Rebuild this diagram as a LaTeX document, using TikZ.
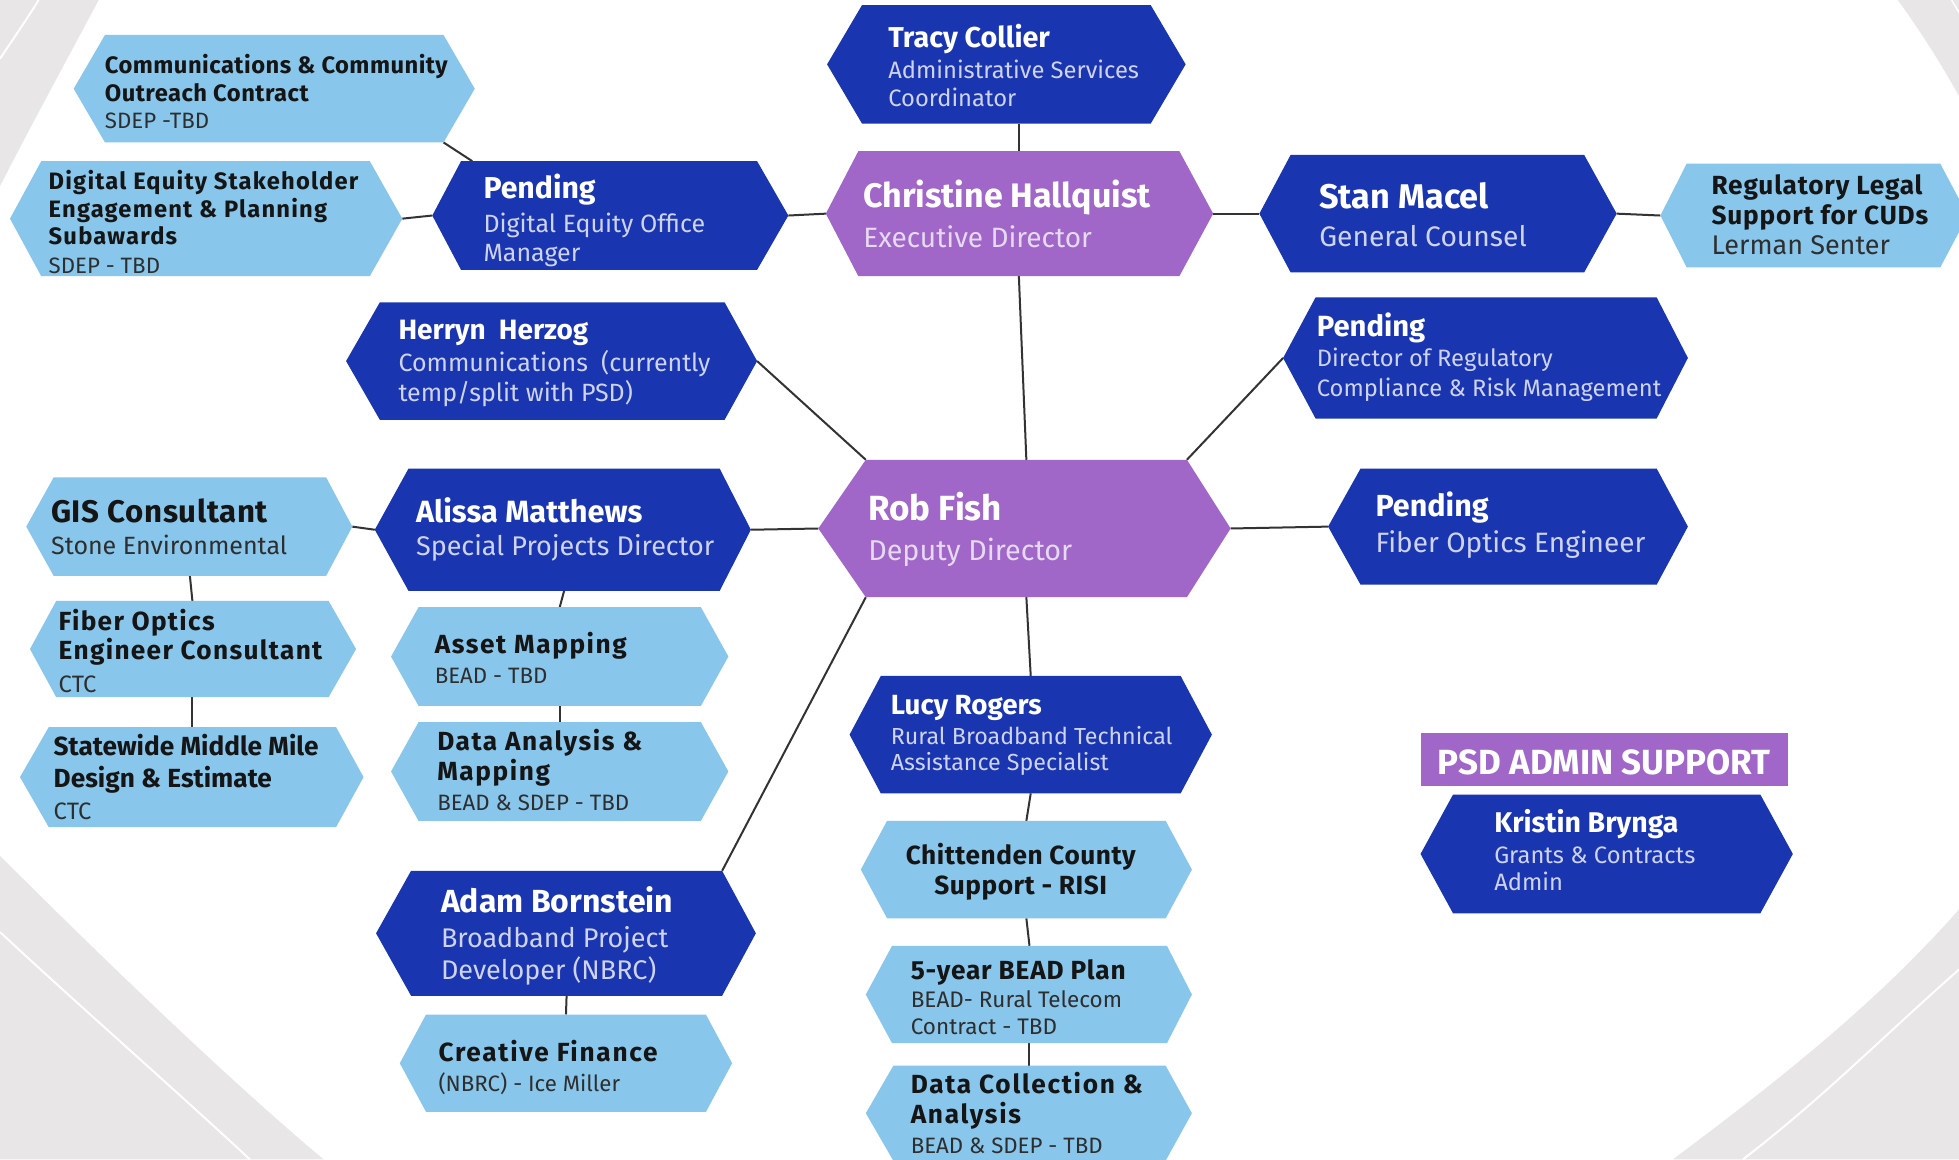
\documentclass[tikz,border=0pt]{standalone}
\usepackage{fontspec}
\setmainfont{Fira Sans}
\usetikzlibrary{calc}
\pgfdeclarelayer{bg}\pgfdeclarelayer{lines}\pgfdeclarelayer{boxes}
\pgfsetlayers{bg,lines,boxes,main}
\definecolor{dblue}{HTML}{1A35B0}
\definecolor{purp}{HTML}{A066C8}
\definecolor{lblue}{HTML}{88C6EC}
\definecolor{bggrey}{HTML}{E8E6E6}
\definecolor{subd}{HTML}{CDD3F0}
\definecolor{subp}{HTML}{E6D9F2}
\definecolor{titl}{HTML}{151515}
\definecolor{subl}{HTML}{2E2E2E}
\definecolor{conncol}{HTML}{333333}
\tikzset{
  boxframe/.style={rectangle, draw=none, inner sep=0, outer sep=0},
  tx/.style={anchor=base west, inner sep=0, outer sep=0},
  nm/.style={tx, font=\bfseries\fontsize{#1}{#1}\selectfont},
  sb/.style={tx, font=\fontsize{#1}{#1}\selectfont},
  ls/.style 2 args={tx, font=\bfseries\fontsize{#1}{#1}\selectfont\addfontfeature{LetterSpace=#2}},
  onD/.style={text=white}, subD/.style={text=subd}, subP/.style={text=subp},
  onL/.style={text=titl}, subL/.style={text=subl},
  conn/.style={draw=conncol, line width=0.8pt},
}
\newcommand\hexbox[8]{%
  \node[boxframe, minimum width={(#5-#4)*0.5pt}, minimum height={(#8-#7)*0.5pt}] (#1) at ({(#4+#5)/2},{(#7+#8)/2}) {};
  \coordinate (#1-l) at (#3,{(#7+#8)/2});
  \coordinate (#1-r) at (#6,{(#7+#8)/2});
  \begin{pgfonlayer}{boxes}
  \fill[#2] (#1-l) -- (#1.north west) -- (#1.north east) -- (#1-r) -- (#1.south east) -- (#1.south west) -- cycle;
  \end{pgfonlayer}}
\newcommand\txtline[5]{\node[#4] (#1) at (#2,#3) {#5};}
\begin{document}
\begin{tikzpicture}[x=0.5pt, y=-0.5pt]
\useasboundingbox (0,0) rectangle (1568,928);
\begin{pgfonlayer}{bg}
\fill[white] (0,0) rectangle (1568,928);
\fill[bggrey] (0,0) -- (79,0) .. controls (55,45) and (25,100) .. (0,149) -- cycle;
\draw[white, line width=0.8pt] (31,0) .. controls (21,16) and (10,32) .. (0,47);
\fill[bggrey] (0,685) .. controls (70,755) and (180,862) .. (259,928) -- (0,928) -- cycle;
\draw[white, line width=0.8pt] (0,746) .. controls (60,802) and (140,872) .. (200,928);
\fill[bggrey] (1519,0) .. controls (1535,22) and (1552,48) .. (1568,77) -- (1568,0) -- cycle;
\draw[white, line width=0.6pt] (1562,0) -- (1568,10);
\fill[bggrey] (1339,928) .. controls (1419,868) and (1498,807) .. (1568,728) -- (1568,928) -- cycle;
\draw[white, line width=0.8pt] (1395,928) .. controls (1460,878) and (1510,827) .. (1568,776);
\end{pgfonlayer}

% boxes
\hexbox{tracy}{dblue}{662}{690}{921}{949}{4}{99}
\hexbox{christine}{purp}{661}{687}{944}{971}{121}{221}
\hexbox{stan}{dblue}{1008}{1033}{1268}{1294}{124}{218}
\hexbox{reglegal}{lblue}{1329}{1350}{1553}{1575}{131}{214}
\hexbox{comms}{lblue}{59}{84}{355}{380}{28}{114}
\hexbox{desub}{lblue}{8}{33}{296}{322}{129}{221}
\hexbox{pdeom}{dblue}{346}{369}{606}{631}{129}{216}
\hexbox{herryn}{dblue}{277}{304}{580}{606}{242}{336}
\hexbox{drc}{dblue}{1027}{1053}{1326}{1351}{238}{335}
\hexbox{rob}{purp}{655}{693}{950}{985}{368}{478}
\hexbox{pfoe}{dblue}{1063}{1089}{1326}{1351}{375}{468}
\hexbox{alissa}{dblue}{300}{327}{576}{601}{375}{473}
\hexbox{gis}{lblue}{21}{43}{261}{282}{382}{461}
\hexbox{fiber}{lblue}{24}{45}{263}{285}{481}{558}
\hexbox{statewide}{lblue}{16}{39}{269}{291}{582}{662}
\hexbox{asset}{lblue}{313}{335}{561}{583}{486}{565}
\hexbox{danalysis}{lblue}{313}{335}{561}{583}{578}{657}
\hexbox{adam}{dblue}{301}{329}{578}{605}{697}{797}
\hexbox{creative}{lblue}{320}{341}{565}{586}{812}{890}
\hexbox{lucy}{dblue}{680}{705}{945}{970}{541}{635}
\hexbox{chitt}{lblue}{689}{710}{933}{954}{657}{735}
\hexbox{fivey}{lblue}{693}{714}{934}{954}{757}{835}
\hexbox{dcoll}{lblue}{693}{715}{933}{954}{853}{929}
\hexbox{kristin}{dblue}{1137}{1163}{1409}{1435}{636}{731}
\node[boxframe, fill=purp, minimum width={294*0.5pt}, minimum height={42*0.5pt}] (psd) at (1284,608) {};

% texts
\txtline{tracy-1}{711}{38}{nm=11.5,onD}{Tracy Collier}
\txtline{tracy-2}{711}{63}{sb=9.5,subD}{Administrative Services}
\txtline{tracy-3}{711}{85}{sb=9.5,subD}{Coordinator}
\txtline{christine-1}{691}{166}{nm=13.6,onD}{Christine Hallquist}
\txtline{christine-2}{691}{198}{sb=11.2,subP}{Executive Director}
\txtline{stan-1}{1056}{167}{nm=13.7,onD}{Stan Macel}
\txtline{stan-2}{1056}{197}{sb=11.3,subD}{General Counsel}
\txtline{reglegal-1}{1370}{156}{ls={10.5}{3},onL}{Regulatory Legal}
\txtline{reglegal-2}{1370}{180}{ls={10.5}{3},onL}{Support for CUDs}
\txtline{reglegal-3}{1370}{204}{sb=10.8,subL}{Lerman Senter}
\txtline{comms-1}{84}{59}{ls={9.5}{2},onL}{Communications \& Community}
\txtline{comms-2}{84}{81}{ls={9.5}{2},onL}{Outreach Contract}
\txtline{comms-3}{84}{103}{sb=8.9,subL}{SDEP -TBD}
\txtline{desub-1}{39}{152}{ls={9.5}{5},onL}{Digital Equity Stakeholder}
\txtline{desub-2}{39}{174}{ls={9.5}{5},onL}{Engagement \& Planning}
\txtline{desub-3}{39}{196}{ls={9.5}{5},onL}{Subawards}
\txtline{desub-4}{39}{219}{sb=8.9,subL}{SDEP - TBD}
\txtline{pdeom-1}{387}{159}{nm=12.1,onD}{Pending}
\txtline{pdeom-2}{387}{186}{sb=10,subD}{Digital Equity Office}
\txtline{pdeom-3}{387}{209}{sb=10,subD}{Manager}
\txtline{herryn-1}{319}{272}{nm=11.2,onD}{Herryn\ \ Herzog}
\txtline{herryn-2}{319}{297}{sb=10,subD}{Communications\ \ (currently}
\txtline{herryn-3}{319}{321}{sb=10,subD}{temp/split with PSD)}
\txtline{drc-1}{1054}{269}{nm=11.7,onD}{Pending}
\txtline{drc-2}{1054}{293}{sb=9.5,subD}{Director of Regulatory}
\txtline{drc-3}{1054}{317}{sb=9.5,subD}{Compliance \& Risk Management}
\txtline{rob-1}{695}{417}{nm=14,onD}{Rob Fish}
\txtline{rob-2}{695}{449}{sb=11.5,subP}{Deputy Director}
\txtline{pfoe-1}{1101}{413}{nm=12.2,onD}{Pending}
\txtline{pfoe-2}{1101}{442}{sb=11.2,subD}{Fiber Optics Engineer}
\txtline{alissa-1}{333}{418}{nm=12.3,onD}{Alissa Matthews}
\txtline{alissa-2}{333}{445}{sb=10.8,subD}{Special Projects Director}
\txtline{gis-1}{41}{418}{ls={12.5}{2},onL}{GIS Consultant}
\txtline{gis-2}{41}{444}{sb=10,subL}{Stone Environmental}
\txtline{fiber-1}{47}{505}{ls={10.5}{5},onL}{Fiber Optics}
\txtline{fiber-2}{47}{528}{ls={10.5}{5},onL}{Engineer Consultant}
\txtline{fiber-3}{47}{554}{sb=9.5,subL}{CTC}
\txtline{statewide-1}{43}{605}{nm=10.5,onL}{Statewide Middle Mile}
\txtline{statewide-2}{43}{630}{nm=10.5,onL}{Design \& Estimate}
\txtline{statewide-3}{43}{656}{sb=9.5,subL}{CTC}
\txtline{asset-1}{348}{523}{ls={10.5}{6},onL}{Asset Mapping}
\txtline{asset-2}{348}{547}{sb=8.9,subL}{BEAD - TBD}
\txtline{danalysis-1}{350}{601}{ls={10.5}{6},onL}{Data Analysis \&}
\txtline{danalysis-2}{350}{625}{ls={10.5}{6},onL}{Mapping}
\txtline{danalysis-3}{350}{649}{sb=8.9,subL}{BEAD \& SDEP - TBD}
\txtline{adam-1}{353}{730}{nm=12.8,onD}{Adam Bornstein}
\txtline{adam-2}{353}{758}{sb=10.8,subD}{Broadband Project}
\txtline{adam-3}{353}{784}{sb=10.8,subD}{Developer (NBRC)}
\txtline{creative-1}{351}{850}{ls={10.5}{6.5},onL}{Creative Finance}
\txtline{creative-2}{351}{874}{sb=8.9,subL}{(NBRC) - Ice Miller}
\txtline{lucy-1}{713}{572}{nm=11.1,onD}{Lucy Rogers}
\txtline{lucy-2}{713}{596}{sb=9.3,subD}{Rural Broadband Technical}
\txtline{lucy-3}{713}{617}{sb=9.3,subD}{Assistance Specialist}
\node[ls={10.5}{2},onL,anchor=base] (chitt-1) at (817,692) {Chittenden County};
\node[ls={10.5}{2},onL,anchor=base] (chitt-2) at (817,716) {Support - RISI};
\txtline{fivey-1}{729}{784}{ls={10.5}{3},onL}{5-year BEAD Plan}
\txtline{fivey-2}{729}{806}{sb=9,subL}{BEAD- Rural Telecom}
\txtline{fivey-3}{729}{828}{sb=9,subL}{Contract - TBD}
\txtline{dcoll-1}{729}{875}{ls={10.5}{6.5},onL}{Data Collection \&}
\txtline{dcoll-2}{729}{899}{ls={10.5}{6.5},onL}{Analysis}
\txtline{dcoll-3}{729}{923}{sb=8.9,subL}{BEAD \& SDEP - TBD}
\node[nm=14,onD,anchor=base] (psd-1) at (1284,620) {PSD ADMIN SUPPORT};
\txtline{kristin-1}{1196}{666}{nm=11.4,onD}{Kristin Brynga}
\txtline{kristin-2}{1196}{691}{sb=9.5,subD}{Grants \& Contracts}
\txtline{kristin-3}{1196}{713}{sb=9.5,subD}{Admin}

% connectors
\begin{pgfonlayer}{lines}
\draw[conn] (christine.north) -- (christine.north |- tracy.south);
\draw[conn] (christine-l) -- (pdeom-r);
\draw[conn] (christine-r) -- (stan-l);
\draw[conn] (stan-r) -- (reglegal-l);
\draw[conn] (pdeom-l) -- (desub-r);
\draw[conn] (comms.south east) -- ([xshift=4.5pt]pdeom.north west);
\draw[conn] (christine.south) -- (rob.north);
\draw[conn] (herryn-r) -- (rob.north west);
\draw[conn] (drc-l) -- (rob.north east);
\draw[conn] (rob-r) -- (pfoe-l);
\draw[conn] (rob-l) -- (alissa-r);
\draw[conn] (alissa-l) -- (gis-r);
\draw[conn] (gis.south) -- (fiber.north);
\draw[conn] (fiber.south) -- (statewide.north);
\draw[conn] (alissa.south) -- (asset.north);
\draw[conn] (asset.south) -- (danalysis.north);
\draw[conn] (rob.south west) -- (adam.north east);
\draw[conn] (adam.south) -- (creative.north);
\draw[conn] (rob.south) -- (lucy.north);
\draw[conn] (lucy.south) -- (chitt.north);
\draw[conn] (chitt.south) -- (fivey.north);
\draw[conn] (fivey.south) -- (dcoll.north);
\end{pgfonlayer}
\end{tikzpicture}
\end{document}
